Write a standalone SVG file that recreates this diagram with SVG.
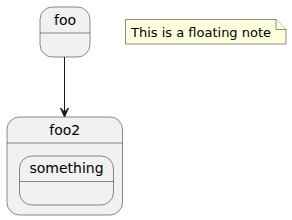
<svg xmlns="http://www.w3.org/2000/svg" width="292" height="220" viewBox="0 0 292 220">
<defs>
<style>
.st{fill:#F1F1F1;stroke:#181818;stroke-width:0.5}
.ln{stroke:#181818;stroke-width:0.5;fill:none}
.lb{font-family:"DejaVu Sans",sans-serif;font-size:14px;fill:#000;text-anchor:middle}
.nt{font-family:"DejaVu Sans",sans-serif;font-size:13px;fill:#000}
</style>
</defs>
<g id="foo">
<rect class="st" x="40" y="7" width="50" height="50" rx="12.5" ry="12.5"/>
<line class="ln" x1="40" y1="33" x2="90" y2="33"/>
<text class="lb" x="65" y="25">foo</text>
</g>
<g id="foo2">
<rect class="st" x="7" y="117" width="115.5" height="98" rx="12.5" ry="12.5"/>
<line class="ln" x1="7" y1="143" x2="122.5" y2="143"/>
<text class="lb" x="64.8" y="135">foo2</text>
<g id="something">
<rect class="st" x="19.5" y="156" width="94" height="49" rx="12.5" ry="12.5"/>
<line class="ln" x1="19.5" y1="181.5" x2="113.5" y2="181.5"/>
<text class="lb" x="66.5" y="173">something</text>
</g>
</g>
<g id="note">
<path d="M125.5,19.5 L276,19.5 L286,29.5 L286,44 L125.5,44 Z" fill="#FEFFDD" stroke="#181818" stroke-width="0.5"/>
<path d="M276,19.5 L276,29.5 L286,29.5" fill="#FEFFDD" stroke="#181818" stroke-width="0.5"/>
<text class="nt" x="131" y="36.5">This is a floating note</text>
</g>
<g id="connectors">
<line x1="64.5" y1="57" x2="64.5" y2="116" stroke="#181818" stroke-width="1"/>
<path d="M60.5,108 L64.5,117 L68.5,108 L64.5,112 Z" fill="#181818" stroke="#181818" stroke-width="1"/>
</g>
</svg>
